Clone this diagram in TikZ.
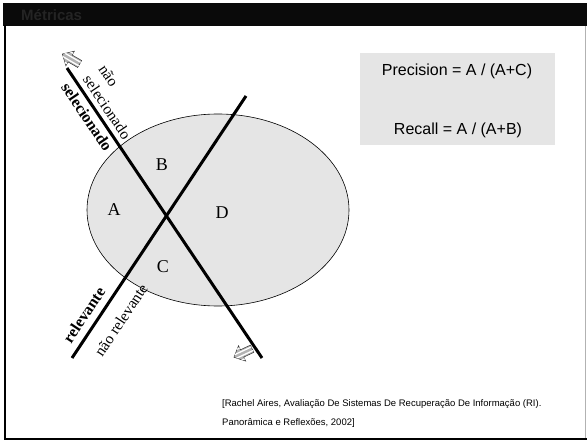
\documentclass[tikz,border=0pt]{standalone}
\usepackage{fontspec}
\setmainfont{Liberation Serif}
\newfontfamily\sansf{Liberation Sans}
\begin{document}
\begin{tikzpicture}[x=1pt,y=-1pt,
  cutline/.style={line width=3pt},
  region/.style={font=\fontsize{18}{20}\selectfont},
  boldlab/.style={font=\bfseries\fontsize{16}{19}\selectfont, inner sep=0pt},
  reglab/.style={font=\fontsize{15.5}{19}\selectfont, inner sep=0pt, align=left},
  formula/.style={font=\sansf\fontsize{16}{18}\selectfont},
  cite/.style={font=\sansf\fontsize{9.5}{11}\selectfont, anchor=west, inner sep=0pt},
  hatcharrow/.style={fill=gray!60, draw=black!80, line width=0.5pt}
]
\useasboundingbox (0,0) rectangle (587,441);
% slide frame and title bar
\fill[black!96] (3,3) rectangle (587,26);
\node[font=\sansf\bfseries\fontsize{15}{17}\selectfont, text=black!86, anchor=west, inner sep=0pt] (title) at (21,15) {Métricas};
\draw[line width=2pt] (4.5,25) -- (4.5,438.5) -- (587,438.5);
\draw[gray!60, line width=1pt] (585.5,26) -- (585.5,437.5);
% ellipse
\filldraw[fill=black!10, draw=black, line width=0.6pt] (218,210) ellipse [x radius=131, y radius=96];
% formula box
\fill[black!10] (360,53) rectangle (555,145);
\node[formula] (prec) at (457,71) {Precision = A / (A+C)};
\node[formula] (rec) at (458,130) {Recall = A / (A+B)};
% cut lines
\coordinate (s1) at (67,68);
\coordinate (s2) at (262,358);
\coordinate (r1) at (246,96);
\coordinate (r2) at (72,358);
\draw[cutline] (s1) -- (s2);
\draw[cutline] (r1) -- (r2);
% region labels
\node[region] (A) at (114,210) {A};
\node[region] (B) at (162,165) {B};
\node[region] (C) at (163,267) {C};
\node[region] (D) at (222,213) {D};
% line labels
\node[boldlab, rotate=-56] (sel) at (87,117) {selecionado};
\node[reglab, rotate=-56] (nsel) at (115,102) {não\\selecionado};
\node[boldlab, rotate=56.4] (rel) at (84,315) {relevante};
\node[reglab, rotate=56.4] (nrel) at (121,320) {não relevante};
% hatched arrows
\foreach \px/\py/\ang in {71/59/150, 243/353/205} {
  \begin{scope}[shift={(\px,\py)}, rotate=\ang]
    \path[hatcharrow] (-10,-4) -- (1,-4) -- (1,-8.5) -- (10,0) -- (1,8.5) -- (1,4) -- (-10,4) -- cycle;
    \begin{scope}
      \clip (-10,-4) -- (1,-4) -- (1,-8.5) -- (10,0) -- (1,8.5) -- (1,4) -- (-10,4) -- cycle;
      \foreach \k in {-6,-2,2,6} { \draw[white, line width=1.3pt] (-11,\k) -- (11,\k); }
    \end{scope}
  \end{scope}
}
% citation
\node[cite] (cite1) at (222,404) {[Rachel Aires, Avaliação De Sistemas De Recuperação De Informação (RI).};
\node[cite] (cite2) at (222,423) {Panorâmica e Reflexões, 2002]};
\end{tikzpicture}
\end{document}
